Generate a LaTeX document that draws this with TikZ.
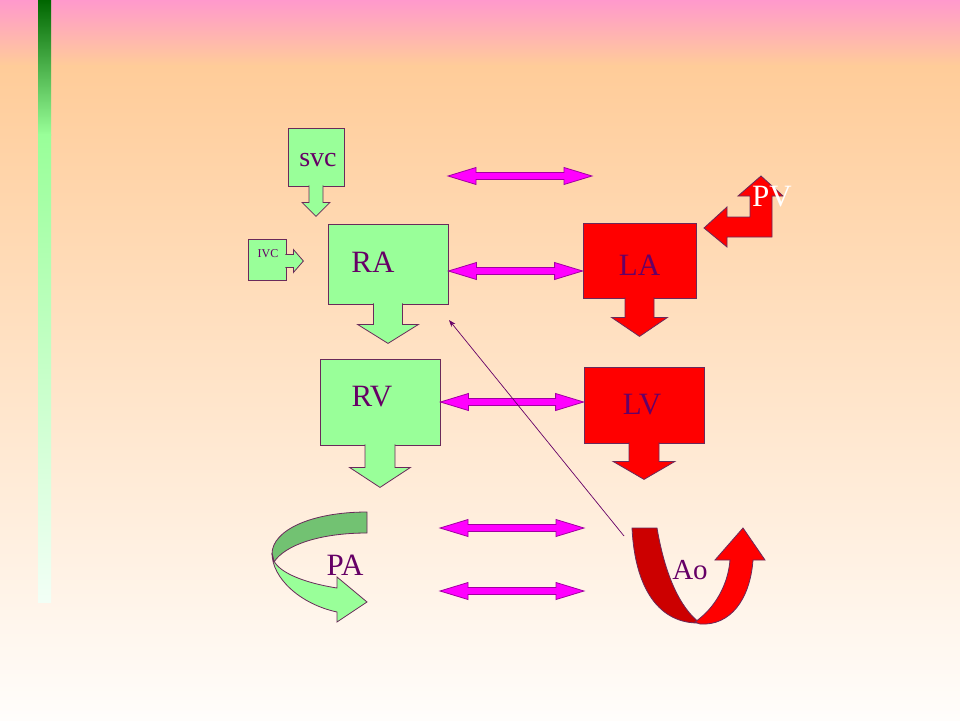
\documentclass[tikz,border=0pt]{standalone}
\usepackage{fontspec}
\setmainfont{Liberation Serif}
\usepackage{tikz}
\usetikzlibrary{calc,arrows.meta,positioning}

\definecolor{boxgreen}{HTML}{99FF99}
\definecolor{backgreen}{HTML}{72C272}
\definecolor{boxred}{HTML}{FF0000}
\definecolor{backred}{HTML}{CC0000}
\definecolor{linkpink}{HTML}{FF00FF}
\definecolor{linkedge}{HTML}{A000A0}
\definecolor{rim}{HTML}{6A2A5A}
\definecolor{labpurple}{HTML}{660066}
\definecolor{toppink}{HTML}{FF99CC}
\definecolor{peach}{HTML}{FFCC99}
\definecolor{paper}{HTML}{FFFDFB}
\definecolor{bardark}{HTML}{006600}
\definecolor{barpale}{HTML}{F2FFF6}

\newcommand\bigtxt{\fontsize{31}{31}\selectfont}
% block arrow leaving a box: style, place, turn, shaft half, shaft length, head half, head length
\newcommand\outflow[7]{\filldraw[#1,shift={(#2)},rotate=#3] (-#4,-1) -- (-#4,#5) -- (-#6,#5) -- (0,#5+#7) -- (#6,#5) -- (#4,#5) -- (#4,-1);}
% two-headed block arrow at the height of the first point
\newcommand\twoway[2]{\filldraw[twoway] let \p1=(#1), \p2=(#2) in
  (\x1,\y1) -- (\x1+28pt,\y1+8.5pt) -- (\x1+28pt,\y1+3.5pt) -- (\x2-28pt,\y1+3.5pt) -- (\x2-28pt,\y1+8.5pt) -- (\x2,\y1)
  -- (\x2-28pt,\y1-8.5pt) -- (\x2-28pt,\y1-3.5pt) -- (\x1+28pt,\y1-3.5pt) -- (\x1+28pt,\y1-8.5pt) -- cycle;}

\begin{document}
\begin{tikzpicture}[x=1pt,y=-1pt]
  \tikzset{lab/.style = {font=\bigtxt,text=labpurple,inner sep=0}}
  \tikzset{greenbox/.style = {draw=rim,fill=boxgreen,line width=0.8,inner sep=0}}
  \tikzset{redbox/.style = {draw=rim,fill=boxred,line width=0.8,inner sep=0}}
  \tikzset{greenarrow/.style = {draw=rim,fill=boxgreen,line width=0.8,line join=miter}}
  \tikzset{redarrow/.style = {draw=rim,fill=boxred,line width=0.8,line join=miter}}
  \tikzset{twoway/.style = {draw=linkedge,fill=linkpink,line width=0.8}}
  \tikzset{backflow/.style = {draw=labpurple,line width=0.7,-{Stealth[length=7pt,width=5pt]}}}

  % backdrop
  \useasboundingbox (0,0) rectangle (960,720);
  \shade[top color=toppink,bottom color=peach] (0,0) rectangle (960,66);
  \shade[top color=peach,bottom color=paper] (0,65.5) rectangle (960,720);
  \shade[top color=bardark,bottom color=boxgreen] (38,0) rectangle (51,135);
  \shade[top color=boxgreen,bottom color=barpale] (38,134.5) rectangle (51,602);

  % boxes
  \node[greenbox,minimum width=56,minimum height=58,label={[lab,font=\fontsize{28}{28}\selectfont,xshift=2,yshift=-3]center:svc}] (svc) at (316,157) {};
  \node[greenbox,minimum width=38,minimum height=41,label={[lab,font=\fontsize{12}{12}\selectfont,xshift=1,yshift=6]center:IVC}] (IVC) at (267,259.5) {};
  \node[greenbox,minimum width=120,minimum height=80,label={[lab,xshift=-15,yshift=2]center:RA}] (RA) at (388,264) {};
  \node[greenbox,minimum width=120,minimum height=86,label={[lab,xshift=-8,yshift=5]center:RV}] (RV) at (380,402) {};
  \node[redbox,minimum width=113,minimum height=75,label={[lab,yshift=-5]center:LA}] (LA) at (639.5,260.5) {};
  \node[redbox,minimum width=120,minimum height=76,label={[lab,xshift=-2]center:LV}] (LV) at (644,405) {};

  % outflows
  \outflow{greenarrow}{svc.south}{0}{7}{16}{14}{14}
  \outflow{greenarrow}{[yshift=-1.5]IVC.east}{90}{6.5}{7}{11.5}{10}
  \outflow{greenarrow}{RA.south}{0}{14.5}{20}{30.5}{19}
  \outflow{greenarrow}{RV.south}{0}{15}{22}{30.5}{20}
  \outflow{redarrow}{LA.south}{0}{14.5}{19}{28}{19}
  \outflow{redarrow}{LV.south}{0}{15}{18}{31}{18}

  % PV
  \filldraw[redarrow] (704,228) -- (727,207) -- (727,217) -- (750,217) -- (750,196) -- (738,196) -- (761,176)
    -- (783,196) -- (772,196) -- (772,237) -- (727,237) -- (727,247) -- cycle;
  \node[lab,text=white] (PV) at (772,197) {PV};

  % PA
  \filldraw[greenarrow,fill=backgreen] (367,512) .. controls (312,512) and (272,530) .. (272,554) -- (274,562)
    .. controls (285,545) and (320,533) .. (367,533) -- cycle;
  \filldraw[greenarrow] (272,553) .. controls (272,578) and (300,604) .. (337,612) -- (337,622) -- (367,602)
    -- (337,577) -- (337,588) .. controls (305,583) and (280,573) .. (274,561) -- cycle;
  \node[lab] (PA) at (345,565) {PA};

  % Ao
  \filldraw[redarrow,fill=backred] (632,528) -- (657,528) .. controls (665,575) and (680,608) .. (700,623)
    .. controls (660,624) and (635,590) .. (632,528) -- cycle;
  \filldraw[redarrow] (695,622) .. controls (715,608) and (728,585) .. (730,560) -- (715,560) -- (743,528)
    -- (765,560) -- (753,560) .. controls (750,600) and (730,626) .. (700,624) -- cycle;
  \node[lab,font=\fontsize{29}{29}\selectfont] (Ao) at (690,570) {Ao};

  % links
  \coordinate (topl) at (448,176);
  \coordinate (topr) at (592,176);
  \coordinate (lowla) at (440,528);
  \coordinate (lowra) at (584,528);
  \coordinate (lowlb) at (440,591);
  \coordinate (lowrb) at (584,591);
  \twoway{topl}{topr}
  \twoway{[yshift=-7]RA.east}{LA.west}
  \twoway{RV.east}{LV.west}
  \twoway{lowla}{lowra}
  \twoway{lowlb}{lowrb}

  \coordinate (aoin) at (624,536);
  \coordinate (raback) at (449,320);
  \draw[backflow] (aoin) -- (raback);
\end{tikzpicture}
\end{document}
